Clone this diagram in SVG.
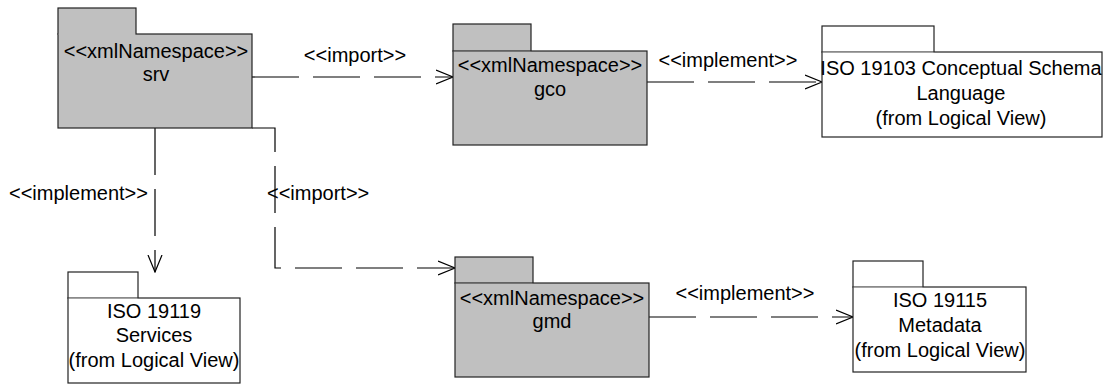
<svg xmlns="http://www.w3.org/2000/svg" width="1104" height="384" viewBox="0 0 1104 384">
<style>
  text { font-family: "Liberation Sans", Arial, sans-serif; font-size: 20px; fill: #000; }
  .c { text-anchor: middle; }
  .pkgG { fill: #c0c0c0; stroke: #222; stroke-width: 1.2; }
  .pkgW { fill: #fff; stroke: #222; stroke-width: 1.2; }
  .sepG { stroke: #8a8a8a; stroke-width: 1; }
  .sepW { stroke: #d0d0d0; stroke-width: 1; }
  .dep { fill: none; stroke: #000; stroke-width: 1.2; stroke-dasharray: 47 14; marker-end: url(#open); }
</style>
<defs>
  <marker id="open" viewBox="0 0 18 16" refX="17" refY="8" markerWidth="18" markerHeight="16" markerUnits="userSpaceOnUse" orient="auto">
    <path d="M0,1 L17,8 L0,15" fill="none" stroke="#000" stroke-width="1.2" stroke-dasharray="none"/>
  </marker>
</defs>
<rect width="1104" height="384" fill="#fff"/>

<g id="connectors">
  <path class="dep" d="M252,77 L453,77"/>
  <path class="dep" d="M647,82 L822,82"/>
  <path class="dep" d="M155,128 L155,272"/>
  <path class="dep" d="M252,128 L275,128 L275,268 L455,268"/>
  <path class="dep" d="M649,317 L853,317"/>
  <text class="c" x="355" y="62">&lt;&lt;import&gt;&gt;</text>
  <text class="c" x="728" y="67">&lt;&lt;implement&gt;&gt;</text>
  <text x="9" y="200">&lt;&lt;implement&gt;&gt;</text>
  <text x="267" y="200">&lt;&lt;import&gt;&gt;</text>
  <text class="c" x="745" y="300">&lt;&lt;implement&gt;&gt;</text>
</g>

<g id="srv">
  <rect class="pkgG" x="58" y="8" width="78" height="26"/>
  <rect class="pkgG" x="58" y="34" width="194" height="94"/>
  <rect x="58.6" y="33" width="76.8" height="2" fill="#c0c0c0"/>
  <text class="c" x="156" y="58">&lt;&lt;xmlNamespace&gt;&gt;</text>
  <text class="c" x="156" y="81">srv</text>
</g>

<g id="gco">
  <rect class="pkgG" x="453" y="24" width="78" height="27"/>
  <rect class="pkgG" x="453" y="51" width="194" height="94"/>
  <line class="sepG" x1="453.6" y1="51" x2="530.4" y2="51"/>
  <text class="c" x="550" y="72">&lt;&lt;xmlNamespace&gt;&gt;</text>
  <text class="c" x="550" y="96">gco</text>
</g>

<g id="iso19103">
  <rect class="pkgW" x="822" y="26" width="112" height="26"/>
  <rect class="pkgW" x="822" y="52" width="280" height="85"/>
  <line class="sepW" x1="822.6" y1="52" x2="933.4" y2="52"/>
  <text class="c" x="961" y="75">ISO 19103 Conceptual Schema</text>
  <text class="c" x="961" y="100">Language</text>
  <text class="c" x="961" y="125">(from Logical View)</text>
</g>

<g id="iso19119">
  <rect class="pkgW" x="68" y="272" width="70" height="26"/>
  <rect class="pkgW" x="68" y="298" width="172" height="85"/>
  <line class="sepW" x1="68.6" y1="298" x2="137.4" y2="298"/>
  <text class="c" x="154" y="318">ISO 19119</text>
  <text class="c" x="154" y="342">Services</text>
  <text class="c" x="154" y="367">(from Logical View)</text>
</g>

<g id="gmd">
  <rect class="pkgG" x="455" y="257" width="78" height="26"/>
  <rect class="pkgG" x="455" y="283" width="194" height="94"/>
  <line class="sepG" x1="455.6" y1="283" x2="532.4" y2="283"/>
  <text class="c" x="552" y="305">&lt;&lt;xmlNamespace&gt;&gt;</text>
  <text class="c" x="552" y="328">gmd</text>
</g>

<g id="iso19115">
  <rect class="pkgW" x="853" y="261" width="70" height="26"/>
  <rect class="pkgW" x="853" y="287" width="173" height="85"/>
  <line class="sepW" x1="853.6" y1="287" x2="922.4" y2="287"/>
  <text class="c" x="940" y="307">ISO 19115</text>
  <text class="c" x="940" y="332">Metadata</text>
  <text class="c" x="940" y="357">(from Logical View)</text>
</g>
</svg>
